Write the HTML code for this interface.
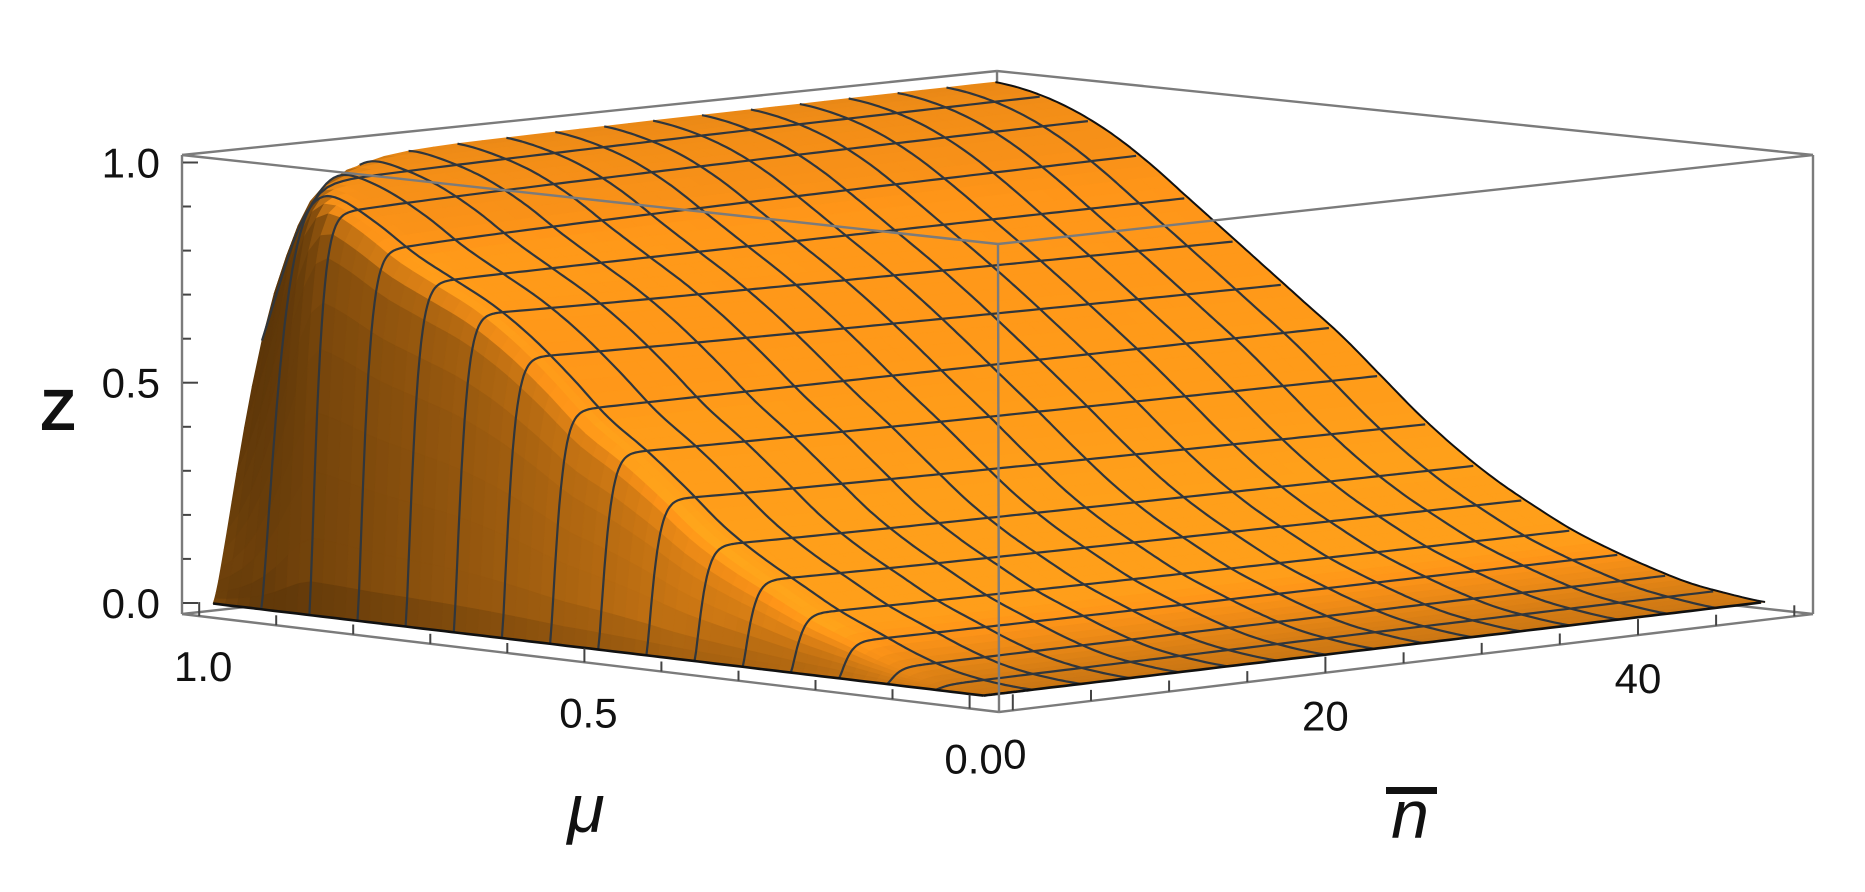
<!DOCTYPE html>
<html>
<head>
<meta charset="utf-8">
<style>
  html,body{margin:0;padding:0;background:#fff;}
  svg{display:block;}
  text{font-family:"Liberation Sans",sans-serif;fill:#111;}
</style>
</head>
<body>
<svg id="chart" width="1865" height="892" viewBox="0 0 1865 892" xmlns="http://www.w3.org/2000/svg">
  <g id="backBox"></g>
  <g id="surface"></g>
  <g id="mesh"></g>
  <g id="edges"></g>
  <g id="frontBox"></g>
  <g id="ticks"></g>
  <g id="labels">
    <text x="58" y="430" font-size="58" font-weight="bold" text-anchor="middle">Z</text>
    <text x="586" y="832" font-size="68" font-style="italic" text-anchor="middle">μ</text>
    <text x="1410" y="838" font-size="68" font-style="italic" text-anchor="middle">n</text>
    <rect x="1386" y="787" width="51" height="7" fill="#111"></rect>
  </g>
</svg>
<script>
// ---- data ----
const muVals = [0,0.05,0.1,0.15,0.2,0.25,0.3,0.35,0.4,0.45,0.5,0.55,0.6,0.65,0.7,0.75,0.8,0.85,0.9,0.95,1.0];
// plateau height just after the steep rise (small n)
const cliffZ = [0,0.005,0.02,0.05,0.09,0.13,0.18,0.23,0.29,0.37,0.44,0.50,0.59,0.67,0.73,0.77,0.81,0.87,0.92,0.95,0.97];
// height at n = 50
const endZ   = [0,0.01,0.025,0.05,0.08,0.115,0.16,0.21,0.27,0.34,0.42,0.50,0.57,0.64,0.71,0.78,0.85,0.91,0.955,0.985,1.0];
const zTicks = [0,0.1,0.2,0.3,0.4,0.5,0.6,0.7,0.8,0.9,1.0];
const zTickLabels = ["0.0","0.5","1.0"];
const zLabelVals = [0,0.5,1.0];
const muTicks = [0,0.1,0.2,0.3,0.4,0.5,0.6,0.7,0.8,0.9,1.0];
const muTickLabels = ["1.0","0.5","0.0"];
const muLabelVals = [1.0,0.5,0.0];
const nTicks = [0,5,10,15,20,25,30,35,40,45,50];
const nTickLabels = ["0","20","40"];
const nLabelVals = [0,20,40];
const meshCount = 16;
const nMax = 50;

// ---- projection (box corners in screen space) ----
const B00=[999,712],B10=[182,614],B01=[1813,614],B11=[1000,524];
const T00=[998,244],T10=[182,155],T01=[1813,155],T11=[997,71];
function A(mu){return 0.036+0.943*mu;}
function Bn(n){return 0.017+0.0192*n;}
function C(z){return (z+0.025)/1.042;}
function bil(p00,pa,pb,pab,a,b){
  return [p00[0]*(1-a)*(1-b)+pa[0]*a*(1-b)+pb[0]*(1-a)*b+pab[0]*a*b,
          p00[1]*(1-a)*(1-b)+pa[1]*a*(1-b)+pb[1]*(1-a)*b+pab[1]*a*b];
}
function projABC(a,b,c){
  const lo=bil(B00,B10,B01,B11,a,b), hi=bil(T00,T10,T01,T11,a,b);
  return [lo[0]+(hi[0]-lo[0])*c, lo[1]+(hi[1]-lo[1])*c];
}
function proj(mu,n,z){return projABC(A(mu),Bn(n),C(z));}

// ---- surface model from arrays ----
function interp(arr,mu){
  const h=0.05; let i=Math.floor(mu/h); if(i>=arr.length-1)i=arr.length-2; if(i<0)i=0;
  const t=(mu-i*h)/h;
  const p0=arr[Math.max(0,i-1)],p1=arr[i],p2=arr[i+1],p3=arr[Math.min(arr.length-1,i+2)];
  const v=0.5*((2*p1)+(-p0+p2)*t+(2*p0-5*p1+4*p2-p3)*t*t+(-p0+3*p1-3*p2+p3)*t*t*t);
  return Math.max(0,v);
}
function zAt(mu,n){
  const base=interp(cliffZ,mu)+(interp(endZ,mu)-interp(cliffZ,mu))*Math.sqrt(n/nMax);
  const tau=0.65+160*Math.pow(Math.max(0,mu-0.87),2);
  const R=1-Math.exp(-Math.pow(n/tau,1.3));
  return base*R;
}

const NS="http://www.w3.org/2000/svg";
function mk(tag,attrs,parent){const e=document.createElementNS(NS,tag);for(const k in attrs)e.setAttribute(k,attrs[k]);parent.appendChild(e);return e;}
function pts(arr){return arr.map(p=>p[0].toFixed(1)+","+p[1].toFixed(1)).join(" ");}
function line(p,q,attrs,parent){return mk("line",Object.assign({x1:p[0].toFixed(1),y1:p[1].toFixed(1),x2:q[0].toFixed(1),y2:q[1].toFixed(1)},attrs),parent);}

// ---- box back edges ----
const backG=document.getElementById("backBox");
const boxStyle={stroke:"#7b7b7b","stroke-width":"2.4"};
[[T10,T11],[T11,T01],[B10,B11],[B11,B01],[B11,T11]].forEach(e=>{
  const l=line(e[0],e[1],boxStyle,backG);
  
  
});

// ---- surface polygons ----
const surfG=document.getElementById("surface");
const muS=[];for(let i=0;i<=64;i++)muS.push(i/64);
const nS=[0,0.1,0.2,0.35,0.5,0.7,0.9,1.2,1.5,2,2.5,3.125,3.9,4.6875];
for(let k=4;k<=32;k++){const v=k*1.5625;if(v>4.7)nS.push(v);}
const L=[-0.5,-0.35,0.8];const Ll=Math.hypot(...L);
const quads=[];
for(let i=0;i<muS.length-1;i++){
  for(let j=0;j<nS.length-1;j++){
    const m0=muS[i],m1=muS[i+1],n0=nS[j],n1=nS[j+1];
    const z00=zAt(m0,n0),z10=zAt(m1,n0),z11=zAt(m1,n1),z01=zAt(m0,n1);
    const P=(m,n,z)=>[A(m),Bn(n),C(z)*0.5];
    const p00=P(m0,n0,z00),p10=P(m1,n0,z10),p11=P(m1,n1,z11),p01=P(m0,n1,z01);
    const d1=[p11[0]-p00[0],p11[1]-p00[1],p11[2]-p00[2]];
    const d2=[p01[0]-p10[0],p01[1]-p10[1],p01[2]-p10[2]];
    let N=[d1[1]*d2[2]-d1[2]*d2[1],d1[2]*d2[0]-d1[0]*d2[2],d1[0]*d2[1]-d1[1]*d2[0]];
    let nl=Math.hypot(...N)||1;N=N.map(v=>v/nl);if(N[2]<0)N=N.map(v=>-v);
    const dot=Math.max(0,(N[0]*L[0]+N[1]*L[1]+N[2]*L[2])/Ll);
    const mu=(m0+m1)/2,zc=(z00+z10+z11+z01)/4;
    let k=0.52+0.6*dot;
    const s=1-N[2];
    const dm=0.5+0.5*Math.min(1,Math.max(0,(1-mu)/0.6));
    k*=1-s*(1-dm);
    const c=C(zc);
    k*=1-0.1*Math.min(1,Math.max(0,(c-0.8)/0.2));
    k*=1-0.2*Math.min(1,Math.max(0,(0.1-zc)/0.1));
    const r=Math.min(255,250*k),g=Math.min(185,146*k+ (k>1?20*(k-1):0)),b=Math.min(60,24*k);
    const col="rgb("+r.toFixed(0)+","+g.toFixed(0)+","+b.toFixed(0)+")";
    quads.push({d:A(mu)+Bn((n0+n1)/2),poly:[proj(m0,n0,z00),proj(m1,n0,z10),proj(m1,n1,z11),proj(m0,n1,z01)],col:col});
  }
}
quads.sort((a,b)=>b.d-a.d);
quads.forEach(q=>{
  const p=mk("polygon",{points:pts(q.poly),fill:q.col,stroke:q.col,"stroke-width":"0.8","stroke-linejoin":"round"},surfG);
  
  
});

// ---- mesh lines ----
const meshG=document.getElementById("mesh");
const meshStyle={fill:"none",stroke:"#30363c","stroke-width":"2.2","stroke-linejoin":"round"};
const nFine=[];for(let v=0;v<=3;v+=0.1)nFine.push(v);for(let v=3.25;v<=50.001;v+=0.5)nFine.push(v);
for(let k=1;k<meshCount;k++){
  const mu=k/meshCount;
  const arr=nFine.map(n=>proj(mu,n,zAt(mu,n)));
  const pl=mk("polyline",Object.assign({points:pts(arr)},meshStyle),meshG);
  
  
}
for(let k=1;k<meshCount;k++){
  const n=k*nMax/meshCount;
  const arr=[];for(let i=0;i<=200;i++){const mu=i/200;arr.push(proj(mu,n,zAt(mu,n)));}
  const pl=mk("polyline",Object.assign({points:pts(arr)},meshStyle),meshG);
  
  
}

// ---- surface boundary edges ----
const edgeG=document.getElementById("edges");
const edgeStyle={fill:"none",stroke:"#111","stroke-width":"2.6","stroke-linejoin":"round"};
{
  const a1=[];for(let i=0;i<=100;i++){const mu=i/100;a1.push(proj(mu,0,0));}
  const e1=mk("polyline",Object.assign({points:pts(a1)},edgeStyle),edgeG);
  
  
  const a2=nFine.map(n=>proj(0,n,zAt(0,n)));
  const e2=mk("polyline",Object.assign({points:pts(a2)},edgeStyle),edgeG);
  
  
  const a3=[];for(let i=0;i<=200;i++){const mu=i/200;a3.push(proj(mu,nMax,zAt(mu,nMax)));}
  const e3=mk("polyline",Object.assign({points:pts(a3)},edgeStyle,{"stroke-width":"2"}),edgeG);
  
  
}

// ---- front box edges ----
const frontG=document.getElementById("frontBox");
[[T00,T10],[T00,T01],[T00,B00],[B00,B10],[B00,B01],[T10,B10],[T01,B01]].forEach(e=>{
  const l=line(e[0],e[1],boxStyle,frontG);
  
  
});

// ---- ticks ----
const tickG=document.getElementById("ticks");
const tickStyle={stroke:"#444","stroke-width":"2"};
zTicks.forEach((z,i)=>{
  const p=projABC(1,0,C(z));
  const len=(i%5===0)?15:8;
  const l=line([p[0]+1,p[1]],[p[0]+1+len,p[1]],tickStyle,tickG);
  
  
});
muTicks.forEach((m,i)=>{
  const p=projABC(A(m),0,0);
  const len=(i%5===0)?14:10;
  const l=line(p,[p[0],p[1]-len],tickStyle,tickG);
  
  
});
nTicks.forEach((n,i)=>{
  const p=projABC(0,Bn(n),0);
  const len=(i%4===0)?16:11;
  const l=line(p,[p[0],p[1]-len],tickStyle,tickG);
  
  
});

// ---- tick labels ----
const labG=document.getElementById("labels");
zLabelVals.forEach((z,i)=>{
  const p=projABC(1,0,C(z));
  const t=mk("text",{x:"160",y:(p[1]+15).toFixed(1),"font-size":"42","text-anchor":"end"},labG);
  t.textContent=zTickLabels[i];
  
  
});
muLabelVals.forEach((m,i)=>{
  const p=projABC(A(m),0,0);
  const t=mk("text",{x:(p[0]+4).toFixed(1),y:(p[1]+65).toFixed(1),"font-size":"42","text-anchor":"middle"},labG);
  t.textContent=muTickLabels[i];
  
  
});
nLabelVals.forEach((n,i)=>{
  const p=projABC(0,Bn(n),0);
  const t=mk("text",{x:(p[0]+(n===0?2:0)).toFixed(1),y:(p[1]+58).toFixed(1),"font-size":"42","text-anchor":"middle"},labG);
  t.textContent=nTickLabels[i];
  
  
});
</script>
</body>
</html>
